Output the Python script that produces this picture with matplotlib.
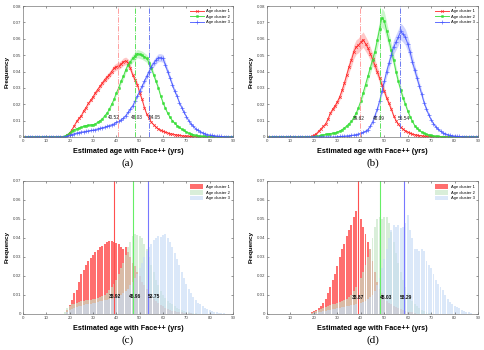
import numpy as np
import matplotlib
matplotlib.use('Agg')
import matplotlib.pyplot as plt
from matplotlib.patches import Patch

plt.rcParams['font.family'] = ['Liberation Sans', 'DejaVu Sans']

ages = np.arange(1, 91)

# ---- panel (a): line plots, values start at the given age, zero elsewhere
red_a_start, red_a = 19, [0.001, 0.0025, 0.0045, 0.007, 0.0095, 0.0115, 0.013, 0.016, 0.018, 0.0205,
    0.0225, 0.0245, 0.027, 0.029, 0.031, 0.033, 0.035, 0.0365, 0.038, 0.040,
    0.042, 0.043, 0.0435, 0.0445, 0.046, 0.0465, 0.0455, 0.042, 0.038, 0.035,
    0.032, 0.027, 0.023, 0.018, 0.014, 0.0115, 0.009, 0.0075, 0.006, 0.005,
    0.004, 0.0035, 0.003, 0.0025, 0.002, 0.0018, 0.0015, 0.0012, 0.001, 0.0008,
    0.0006, 0.0005, 0.0004, 0.0003, 0.0002, 0.0001]
green_a_start, green_a = 18, [0.0005, 0.0015, 0.0025, 0.0035, 0.0045, 0.005, 0.0055, 0.006, 0.0065, 0.007,
    0.0072, 0.0074, 0.0075, 0.008, 0.009, 0.010, 0.011, 0.013, 0.0145, 0.017,
    0.020, 0.023, 0.027, 0.030, 0.034, 0.037, 0.041, 0.044, 0.046, 0.048,
    0.0495, 0.051, 0.0505, 0.050, 0.049, 0.048, 0.0455, 0.042, 0.038, 0.034,
    0.030, 0.025, 0.021, 0.0175, 0.0145, 0.012, 0.010, 0.0085, 0.007, 0.0058,
    0.0048, 0.004, 0.003, 0.0024, 0.0018, 0.0014, 0.001, 0.0008, 0.0006, 0.0004,
    0.0003, 0.0002, 0.0001]
blue_a_start, blue_a = 19, [0.0005, 0.001, 0.0015, 0.002, 0.0024, 0.0027, 0.003, 0.0032, 0.0035, 0.0037,
    0.004, 0.0042, 0.0045, 0.005, 0.0053, 0.0057, 0.006, 0.0065, 0.007, 0.0075,
    0.008, 0.009, 0.0095, 0.0105, 0.0115, 0.013, 0.015, 0.017, 0.019, 0.022,
    0.025, 0.028, 0.031, 0.034, 0.037, 0.040, 0.043, 0.045, 0.047, 0.0485,
    0.0485, 0.048, 0.044, 0.040, 0.036, 0.032, 0.028, 0.025, 0.021, 0.018,
    0.015, 0.0125, 0.010, 0.008, 0.0065, 0.005, 0.004, 0.0033, 0.0026, 0.002,
    0.0015, 0.0012, 0.001, 0.0008, 0.0006, 0.0004, 0.0003, 0.0002, 0.0001]
means_a = [40.52, 48.03, 54.05]

# ---- panel (b)
red_b_start, red_b = 19, [0.0003, 0.001, 0.002, 0.0035, 0.005, 0.0065, 0.008, 0.011, 0.0145, 0.017,
    0.019, 0.0215, 0.0245, 0.0285, 0.033, 0.038, 0.043, 0.047, 0.052, 0.055,
    0.056, 0.058, 0.0595, 0.057, 0.0545, 0.051, 0.0475, 0.044, 0.040, 0.036,
    0.032, 0.028, 0.024, 0.0205, 0.017, 0.013, 0.010, 0.0078, 0.006, 0.0048,
    0.0038, 0.003, 0.0024, 0.0018, 0.0014, 0.0011, 0.0009, 0.0007, 0.0005, 0.0004,
    0.0003, 0.0002, 0.0001]
green_b_start, green_b = 21, [0.0003, 0.0006, 0.001, 0.0013, 0.0016, 0.0019, 0.0021, 0.0023, 0.0025, 0.003,
    0.0036, 0.0045, 0.0055, 0.0068, 0.0082, 0.0095, 0.012, 0.0145, 0.018, 0.022,
    0.027, 0.032, 0.037, 0.042, 0.047, 0.052, 0.059, 0.066, 0.073, 0.071,
    0.065, 0.059, 0.053, 0.047, 0.040, 0.034, 0.029, 0.024, 0.020, 0.016,
    0.0125, 0.0095, 0.007, 0.0052, 0.004, 0.003, 0.0023, 0.0017, 0.0013, 0.001,
    0.0007, 0.0005, 0.0003, 0.0002, 0.0001]
blue_b_start, blue_b = 30, [0.0002, 0.0003, 0.0004, 0.0005, 0.0007, 0.0008, 0.001, 0.0012, 0.0015, 0.0018,
    0.0022, 0.0028, 0.0035, 0.0045, 0.0065, 0.009, 0.013, 0.017, 0.022, 0.028,
    0.034, 0.040, 0.045, 0.050, 0.055, 0.058, 0.061, 0.0645, 0.063, 0.061,
    0.057, 0.052, 0.046, 0.041, 0.036, 0.031, 0.026, 0.021, 0.017, 0.0135,
    0.0105, 0.0082, 0.0062, 0.0047, 0.0035, 0.0026, 0.002, 0.0015, 0.0011, 0.0008,
    0.0006, 0.0004, 0.0003, 0.0002, 0.0001]
means_b = [39.62, 48.09, 56.54]

# ---- panel (c): histograms
red_c_start, red_c = 19, [0.002, 0.0046, 0.0072, 0.011, 0.0125, 0.017, 0.021, 0.023, 0.026, 0.028,
    0.0295, 0.031, 0.0324, 0.0336, 0.035, 0.036, 0.037, 0.038, 0.0383, 0.0385,
    0.038, 0.0375, 0.037, 0.0355, 0.034, 0.035, 0.0325, 0.030, 0.027, 0.025,
    0.022, 0.020, 0.017, 0.015, 0.013, 0.011, 0.0095, 0.008, 0.0068, 0.0057,
    0.0048, 0.004, 0.0033, 0.0027, 0.0022, 0.0018, 0.0015, 0.0012, 0.001, 0.0008,
    0.0006, 0.0005, 0.0004, 0.0003, 0.0002, 0.0001]
green_c_start, green_c = 18, [0.001, 0.003, 0.004, 0.005, 0.0055, 0.006, 0.0065, 0.007, 0.007, 0.0072,
    0.0074, 0.0075, 0.0078, 0.008, 0.0085, 0.009, 0.0095, 0.010, 0.011, 0.0125,
    0.014, 0.016, 0.018, 0.021, 0.024, 0.027, 0.031, 0.035, 0.038, 0.041,
    0.042, 0.0415, 0.041, 0.040, 0.037, 0.034, 0.030, 0.026, 0.022, 0.018,
    0.015, 0.012, 0.010, 0.0085, 0.007, 0.006, 0.005, 0.004, 0.003, 0.0025,
    0.002, 0.0015, 0.001, 0.0008, 0.0006, 0.0004, 0.0003, 0.0002]
blue_c_start, blue_c = 19, [0.001, 0.002, 0.0025, 0.003, 0.0035, 0.004, 0.0043, 0.0046, 0.005, 0.0052,
    0.0055, 0.0058, 0.006, 0.0063, 0.0066, 0.007, 0.0072, 0.0075, 0.0078, 0.008,
    0.0085, 0.009, 0.0095, 0.010, 0.011, 0.012, 0.013, 0.015, 0.017, 0.019,
    0.021, 0.024, 0.027, 0.030, 0.033, 0.035, 0.037, 0.039, 0.040, 0.041,
    0.0405, 0.0415, 0.042, 0.040, 0.038, 0.035, 0.032, 0.029, 0.026, 0.022,
    0.019, 0.016, 0.013, 0.011, 0.009, 0.0075, 0.006, 0.005, 0.004, 0.003,
    0.0025, 0.002, 0.0015, 0.0012, 0.001, 0.0007, 0.0005, 0.0003]
means_c = [38.92, 46.96, 53.75]

# ---- panel (d)
red_d_start, red_d = 19, [0.001, 0.0015, 0.002, 0.003, 0.004, 0.006, 0.008, 0.011, 0.014, 0.018,
    0.021, 0.025, 0.030, 0.034, 0.037, 0.041, 0.044, 0.047, 0.051, 0.054,
    0.053, 0.050, 0.046, 0.042, 0.038, 0.034, 0.028, 0.022, 0.017, 0.013,
    0.011, 0.009, 0.007, 0.006, 0.005, 0.004, 0.0035, 0.003, 0.0025, 0.002,
    0.0015, 0.0012, 0.001, 0.0008, 0.0005]
green_d_start, green_d = 19, [0.0005, 0.001, 0.0015, 0.002, 0.0025, 0.003, 0.0035, 0.004, 0.0045, 0.005,
    0.0055, 0.006, 0.0065, 0.007, 0.0075, 0.008, 0.009, 0.010, 0.012, 0.014,
    0.016, 0.019, 0.022, 0.026, 0.030, 0.034, 0.040, 0.046, 0.050, 0.051,
    0.050, 0.051, 0.051, 0.048, 0.043, 0.038, 0.032, 0.027, 0.022, 0.018,
    0.014, 0.011, 0.009, 0.007, 0.0055, 0.004, 0.003, 0.002, 0.0015, 0.001,
    0.0007, 0.0005]
blue_d_start, blue_d = 20, [0.0005, 0.0007, 0.001, 0.0012, 0.0015, 0.0017, 0.002, 0.0022, 0.0025, 0.0027,
    0.003, 0.0032, 0.0035, 0.0037, 0.004, 0.0042, 0.0045, 0.0048, 0.005, 0.0055,
    0.006, 0.0065, 0.007, 0.008, 0.009, 0.010, 0.012, 0.015, 0.019, 0.024,
    0.029, 0.034, 0.040, 0.044, 0.047, 0.046, 0.047, 0.045, 0.046, 0.048,
    0.052, 0.044, 0.040, 0.034, 0.034, 0.033, 0.034, 0.033, 0.028, 0.026,
    0.024, 0.021, 0.018, 0.016, 0.014, 0.0125, 0.010, 0.008, 0.0063, 0.005,
    0.004, 0.0035, 0.003, 0.002, 0.0015, 0.001, 0.001, 0.0005]
means_d = [38.87, 48.03, 58.29]

series_names = ['Age cluster 1', 'Age cluster 2', 'Age cluster 3']
panel_tags = ['(a)', '(b)', '(c)', '(d)']


def full(start, vals):
    out = np.zeros(len(ages))
    out[start - 1:start - 1 + len(vals)] = vals
    return out


line_cols = ['#ff2020', '#33dd33', '#4455ff']
vline_cols_dash = ['#ff9090', '#44dd44', '#5566ee']
hist_cols = [('#ff3030', 0.7), ('#c5e5c5', 0.65), ('#c8dcf6', 0.65)]
vline_cols_solid = ['#ff5050', '#66ee66', '#7777ff']

fig = plt.figure(figsize=(4.84, 3.5), dpi=100)
pos = [[0.0475, 0.6086, 0.434, 0.374], [0.5517, 0.6086, 0.436, 0.374],
       [0.0475, 0.1029, 0.434, 0.380], [0.5517, 0.1029, 0.436, 0.380]]
axes = [fig.add_axes(p) for p in pos]


def style_axis(ax, ymax, ytk):
    ax.set_xlim(0, 90)
    ax.set_ylim(0, ymax)
    ax.set_xticks(range(0, 91, 10))
    ax.set_yticks(ytk)
    ax.set_yticklabels(['0'] + ['%.2f' % t for t in ytk[1:]])
    ax.tick_params(direction='in', length=1.5, width=0.4, labelsize=3.2,
                   top=True, right=True, pad=1.5, colors='#444444')
    for s in ax.spines.values():
        s.set_linewidth(0.5)
        s.set_color('#777777')
    ax.set_xlabel('Estimated age with Face++ (yrs)', fontsize=5.2, fontweight='bold', labelpad=3.5)
    ax.set_ylabel('Frequency', fontsize=4.6, fontweight='bold', labelpad=2)


# line panels
line_data = [
    [full(red_a_start, red_a), full(green_a_start, green_a), full(blue_a_start, blue_a)],
    [full(red_b_start, red_b), full(green_b_start, green_b), full(blue_b_start, blue_b)],
]
line_means = [means_a, means_b]
band_rel = [0.05, 0.08]
markers = [('x', 2.0), ('s', 1.3), ('+', 2.5)]
label_shift = [[(-1.6, 0.012), (0.6, 0.012), (2.6, 0.012)],
               [(-0.6, 0.0115), (-0.2, 0.0115), (1.8, 0.0115)]]

for k in range(2):
    ax = axes[k]
    handles = []
    for i in range(3):
        y = line_data[k][i]
        ax.fill_between(ages, y * (1 - band_rel[k]), y * (1 + band_rel[k]),
                        color=line_cols[i], alpha=0.25, lw=0)
        h, = ax.plot(ages, y, color=line_cols[i], lw=0.7, alpha=0.85,
                     marker=markers[i][0], ms=markers[i][1], mew=0.5)
        handles.append(h)
    for i in range(3):
        m = line_means[k][i]
        ax.axvline(m, color=vline_cols_dash[i], lw=0.6, ls='-.')
        dx, yy = label_shift[k][i]
        ax.text(m + dx, yy, '%.2f' % m, fontsize=3.4, ha='center', va='center', color='#222222')
    style_axis(ax, 0.08, [0, 0.01, 0.02, 0.03, 0.04, 0.05, 0.06, 0.07, 0.08])
    ax.legend(handles, series_names, loc='upper right', fontsize=3.0, frameon=False,
              handlelength=3.2, borderaxespad=0.4, labelspacing=0.35, handletextpad=0.5)

# histogram panels
hist_data = [
    [full(red_c_start, red_c), full(green_c_start, green_c), full(blue_c_start, blue_c)],
    [full(red_d_start, red_d), full(green_d_start, green_d), full(blue_d_start, blue_d)],
]
hist_means = [means_c, means_d]
hist_label_shift = [[(0.6, 0.009), (1.2, 0.009), (2.6, 0.009)],
                    [(-0.2, 0.0085), (2.7, 0.0085), (1.0, 0.0085)]]

for k in range(2):
    ax = axes[k + 2]
    for i in range(3):
        c, a = hist_cols[i]
        ax.bar(ages, hist_data[k][i], width=0.82, color=c, alpha=a, lw=0)
    for i in range(3):
        m = hist_means[k][i]
        ax.axvline(m, color=vline_cols_solid[i], lw=0.8)
        dx, yy = hist_label_shift[k][i]
        ax.text(m + dx, yy, '%.2f' % m, fontsize=3.5, ha='center', va='center',
                color='#111111', fontweight='bold')
    style_axis(ax, 0.07, [0, 0.01, 0.02, 0.03, 0.04, 0.05, 0.06, 0.07])
    patches = [Patch(facecolor=hist_cols[i][0], alpha=hist_cols[i][1], lw=0) for i in range(3)]
    ax.legend(patches, series_names, loc='upper right', fontsize=3.0, frameon=False,
              handlelength=3.2, handleheight=1.4, borderaxespad=0.4, labelspacing=0.2,
              handletextpad=0.6)

# panel tags below each x label (about 26 px under the axes)
for ax, tag in zip(axes, panel_tags):
    ax.annotate(tag, xy=(0.5, 0), xycoords='axes fraction', xytext=(0, -19),
                textcoords='offset points', ha='center', va='center',
                fontsize=8, family=['Liberation Serif', 'DejaVu Serif'])

fig.savefig('out.png', dpi=100)
